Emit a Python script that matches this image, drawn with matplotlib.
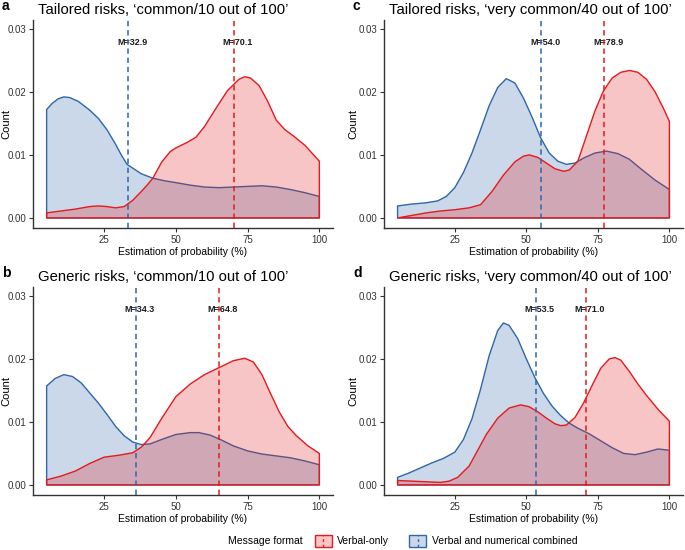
import matplotlib
matplotlib.use("Agg")
import matplotlib.pyplot as plt
from matplotlib.patches import Rectangle, Patch
from matplotlib.lines import Line2D
from matplotlib.legend_handler import HandlerBase

plt.rcParams['font.family'] = ['Liberation Sans', 'DejaVu Sans']

RED = '#E41A1C'
BLUE = '#2F67A8'

# panel a: tailored, common
a_blue_x = [5, 7, 9, 11, 13, 16, 20, 23, 26, 29, 31, 33, 35, 38, 42, 46, 50, 55, 60, 65, 70, 75, 80, 85, 90, 95, 100]
a_blue_y = [0.0172, 0.0182, 0.0189, 0.0192, 0.0191, 0.0185, 0.0171, 0.0158, 0.0140, 0.0117, 0.0100, 0.0085,
            0.0079, 0.0070, 0.0063, 0.0059, 0.0056, 0.0052, 0.0049, 0.0048, 0.0049, 0.0050, 0.0051, 0.0049,
            0.0045, 0.0040, 0.0034]
a_red_x = [5, 10, 15, 20, 23, 26, 29, 32, 35, 38, 40, 42, 45, 48, 50, 54, 57, 60, 64, 68, 72, 74, 76, 79, 82,
           85, 88, 91, 95, 98, 100]
a_red_y = [0.0008, 0.0011, 0.0014, 0.0018, 0.0019, 0.0018, 0.0016, 0.0018, 0.0028, 0.0042, 0.0052, 0.0063,
           0.0088, 0.0105, 0.0111, 0.0120, 0.0128, 0.0145, 0.0174, 0.0202, 0.0220, 0.0224, 0.0222, 0.0210,
           0.0185, 0.0155, 0.0140, 0.0130, 0.0115, 0.0100, 0.0090]

# panel b: generic, common
b_blue_x = [5, 8, 11, 14, 17, 20, 23, 26, 29, 32, 35, 38, 41, 45, 50, 55, 58, 62, 66, 70, 75, 80, 85, 90, 95, 100]
b_blue_y = [0.0157, 0.0169, 0.0175, 0.0172, 0.0162, 0.0146, 0.0130, 0.0112, 0.0093, 0.0078, 0.0068, 0.0064,
            0.0065, 0.0072, 0.0080, 0.0083, 0.0083, 0.0079, 0.0071, 0.0062, 0.0054, 0.0049, 0.0046, 0.0043,
            0.0038, 0.0032]
b_red_x = [5, 10, 15, 20, 25, 30, 35, 38, 41, 45, 50, 55, 60, 65, 70, 74, 77, 80, 83, 86, 89, 92, 96, 100]
b_red_y = [0.0008, 0.0014, 0.0022, 0.0034, 0.0044, 0.0047, 0.0051, 0.0060, 0.0075, 0.0105, 0.0140, 0.0160,
           0.0175, 0.0186, 0.0197, 0.0201, 0.0195, 0.0175, 0.0145, 0.0116, 0.0093, 0.0078, 0.0062, 0.0050]

# panel c: tailored, very common
c_blue_x = [5, 10, 15, 19, 22, 25, 28, 31, 34, 37, 40, 43, 46, 49, 52, 55, 58, 61, 64, 67, 70, 74, 78, 82, 86,
            90, 95, 100]
c_blue_y = [0.0019, 0.0022, 0.0024, 0.0027, 0.0034, 0.0048, 0.0072, 0.0103, 0.0140, 0.0178, 0.0207, 0.0221,
            0.0214, 0.0190, 0.0160, 0.0127, 0.0103, 0.0090, 0.0085, 0.0087, 0.0095, 0.0103, 0.0106, 0.0102,
            0.0093, 0.0078, 0.0060, 0.0045]
c_red_x = [5, 10, 15, 20, 25, 30, 34, 38, 42, 46, 49, 51, 54, 57, 60, 63, 65, 68, 71, 74, 77, 80, 83, 86, 89,
           92, 95, 98, 100]
c_red_y = [0.0000, 0.0004, 0.0008, 0.0011, 0.0013, 0.0016, 0.0021, 0.0042, 0.0068, 0.0089, 0.0098, 0.0100,
           0.0096, 0.0087, 0.0078, 0.0074, 0.0076, 0.0090, 0.0130, 0.0170, 0.0202, 0.0222, 0.0231, 0.0234,
           0.0231, 0.0220, 0.0200, 0.0173, 0.0153]

# panel d: generic, very common
d_blue_x = [5, 9, 13, 17, 21, 25, 28, 31, 34, 37, 40, 42, 44, 47, 50, 53, 56, 59, 62, 65, 68, 72, 76, 80, 84,
            88, 92, 96, 100]
d_blue_y = [0.0012, 0.0019, 0.0027, 0.0035, 0.0042, 0.0052, 0.0072, 0.0105, 0.0152, 0.0205, 0.0245, 0.0257,
            0.0253, 0.0232, 0.0200, 0.0170, 0.0145, 0.0125, 0.0110, 0.0098, 0.0090, 0.0081, 0.0070, 0.0059,
            0.0050, 0.0048, 0.0052, 0.0057, 0.0055]
d_red_x = [5, 10, 15, 20, 23, 26, 30, 33, 36, 40, 44, 48, 51, 54, 57, 60, 62, 64, 67, 70, 73, 76, 79, 81, 83,
           86, 89, 92, 96, 100]
d_red_y = [0.0007, 0.0006, 0.0005, 0.0004, 0.0006, 0.0012, 0.0030, 0.0055, 0.0080, 0.0106, 0.0122, 0.0127,
           0.0124, 0.0116, 0.0106, 0.0097, 0.0094, 0.0095, 0.0107, 0.0130, 0.0158, 0.0185, 0.0200, 0.0202,
           0.0198, 0.0180, 0.0160, 0.0142, 0.0120, 0.0101]

# dashed mean lines (blue, red) as drawn, and their labels
mean_lines = {'a': (33.4, 70.2), 'b': (36.0, 64.9), 'c': (55.1, 77.1), 'd': (53.2, 70.8)}
mean_labels = {'a': ('M=32.9', 'M=70.1'), 'b': ('M=34.3', 'M=64.8'),
               'c': ('M=54.0', 'M=78.9'), 'd': ('M=53.5', 'M=71.0')}
titles = {'a': 'Tailored risks, \u2018common/10 out of 100\u2019',
          'b': 'Generic risks, \u2018common/10 out of 100\u2019',
          'c': 'Tailored risks, \u2018very common/40 out of 100\u2019',
          'd': 'Generic risks, \u2018very common/40 out of 100\u2019'}
series = {'a': (a_blue_x, a_blue_y, a_red_x, a_red_y),
          'b': (b_blue_x, b_blue_y, b_red_x, b_red_y),
          'c': (c_blue_x, c_blue_y, c_red_x, c_red_y),
          'd': (d_blue_x, d_blue_y, d_red_x, d_red_y)}
x_ticks = [25, 50, 75, 100]
y_ticks = [0.00, 0.01, 0.02, 0.03]

W, H = 685, 550
fig = plt.figure(figsize=(W / 100, H / 100), dpi=100)

# axes boxes in pixels: left, top, right, bottom
boxes = {'a': (33, 20, 333, 228), 'c': (384, 20, 683, 228),
         'b': (33, 287, 333, 495), 'd': (384, 287, 683, 495)}

for key in 'abcd':
    l, t, r, b = boxes[key]
    ax = fig.add_axes([l / W, 1 - b / H, (r - l) / W, (b - t) / H])
    bx, by, rx, ry = series[key]
    for xs, ys, col in ((bx, by, BLUE), (rx, ry, RED)):
        px = [xs[0]] + xs + [xs[-1]]
        py = [0] + ys + [0]
        ax.fill(px, py, fc=(col, 0.25), ec=col, lw=1.0, joinstyle='round')
    for m, lab, col in zip(mean_lines[key], mean_labels[key], (BLUE, RED)):
        ax.axvline(m, color=col, ls=(0, (3.5, 2.5)), lw=1.1, zorder=5)
        ax.annotate(lab, xy=(m, 0.0278), xytext=(3, 0), textcoords='offset points',
                    ha='center', va='center', fontsize=6.5, fontweight='bold', color='#1a1a1a', zorder=4)
    ax.set_xlim(0.25, 104.75)
    ax.set_ylim(-0.0016, 0.0314)
    ax.set_xticks(x_ticks)
    ax.set_xticklabels([str(v) for v in x_ticks])
    ax.set_yticks(y_ticks)
    ax.set_yticklabels(['%.2f' % v for v in y_ticks])
    for s in ('top', 'right'):
        ax.spines[s].set_visible(False)
    for s in ('left', 'bottom'):
        ax.spines[s].set_color('#333333')
        ax.spines[s].set_linewidth(1.0)
    ax.tick_params(length=3, width=0.8, color='#333333', labelsize=7, labelcolor='#333333', pad=2)
    ax.set_xlabel('Estimation of probability (%)', fontsize=7.5, labelpad=1.5)
    ax.set_ylabel('Count', fontsize=8)
    ylab_off = -22 if l < 100 else -26
    ax.yaxis.set_label_coords(ylab_off / (r - l), 0.5)
    fig.text((l + 5) / W, 1 - (t - 6) / H, titles[key], fontsize=10.7, va='baseline', ha='left')
    fig.text((l - 31) / W, 1 - (t - 10) / H, key, fontsize=10, fontweight='bold', va='baseline', ha='left')


class KeyHandler(HandlerBase):
    def create_artists(self, legend, orig_handle, xdescent, ydescent, width, height, fontsize, trans):
        box = Rectangle((-xdescent, -ydescent), width, height, facecolor=orig_handle.get_facecolor(),
                        edgecolor=orig_handle.get_edgecolor(), lw=1.0, transform=trans)
        x0 = -xdescent + width / 2
        line = Line2D([x0, x0], [-ydescent, -ydescent + height], color=orig_handle.get_edgecolor(),
                      ls=(0, (2, 2)), lw=1.0, transform=trans)
        return [box, line]


handles = [Patch(fc=(RED, 0.25), ec=RED, label='Verbal-only'),
           Patch(fc=(BLUE, 0.25), ec=BLUE, label='Verbal and numerical combined')]
fig.legend(handles=handles, handler_map={Patch: KeyHandler()}, ncol=2, loc='center left',
           bbox_to_anchor=(315 / W, 1 - 541 / H), frameon=False, fontsize=7.5,
           handlelength=1.6, handleheight=1.5, handletextpad=0.55, columnspacing=1.9,
           borderpad=0, borderaxespad=0)
fig.text(228 / W, 1 - 541 / H, 'Message format', fontsize=7.5, va='center', ha='left')

fig.savefig('out.png', dpi=100)
